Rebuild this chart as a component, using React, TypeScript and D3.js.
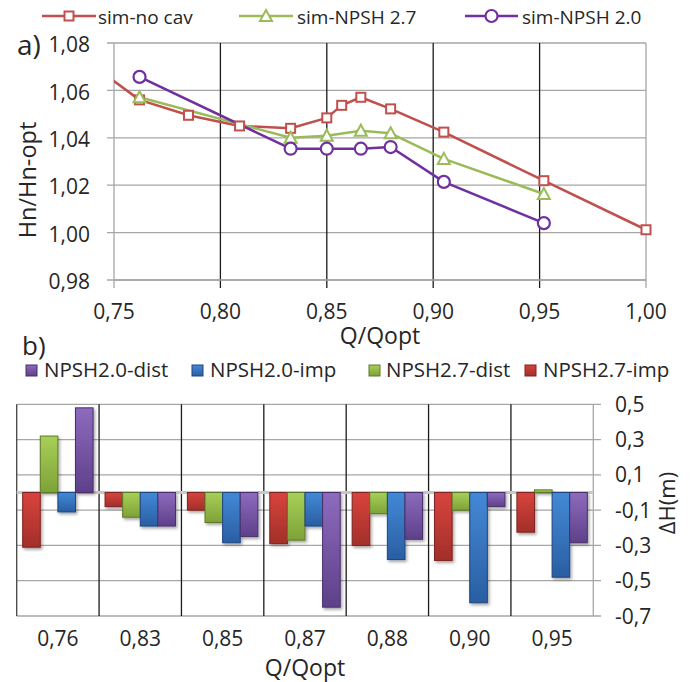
import React from "react";
import * as d3 from "d3";

// ---- Top chart data (a) ----
const noCavQ = [0.74, 0.762, 0.785, 0.809, 0.833, 0.85, 0.857, 0.866, 0.88, 0.905, 0.952, 1.0];
const noCavH = [1.0705, 1.056, 1.0495, 1.045, 1.044, 1.0484, 1.0537, 1.0571, 1.0522, 1.0424, 1.0219, 1.0012];
const npsh27Q = [0.762, 0.833, 0.85, 0.866, 0.88, 0.905, 0.952];
const npsh27H = [1.0571, 1.04, 1.0409, 1.043, 1.0419, 1.0311, 1.0163];
const npsh20Q = [0.762, 0.833, 0.85, 0.866, 0.88, 0.905, 0.952];
const npsh20H = [1.0657, 1.0354, 1.0354, 1.0354, 1.0361, 1.0214, 1.004];
const topXTicks = [0.75, 0.8, 0.85, 0.9, 0.95, 1.0];
const topYTicks = [0.98, 1.0, 1.02, 1.04, 1.06, 1.08];

// ---- Bottom chart data (b) ----
const categories = ["0,76", "0,83", "0,85", "0,87", "0,88", "0,90", "0,95"];
const npsh27imp = [-0.31, -0.08, -0.1, -0.29, -0.3, -0.385, -0.225];
const npsh27dist = [0.32, -0.14, -0.17, -0.27, -0.12, -0.1, 0.015];
const npsh20imp = [-0.11, -0.19, -0.285, -0.19, -0.38, -0.625, -0.48];
const npsh20dist = [0.48, -0.19, -0.25, -0.65, -0.265, -0.08, -0.285];
const botYTicks = [0.5, 0.3, 0.1, -0.1, -0.3, -0.5, -0.7];

const FONT = "'Open Sans', sans-serif";
const TXT = "#262626";
const fmt2 = (v: number) => v.toFixed(2).replace(".", ",");
const fmt1 = (v: number) => v.toFixed(1).replace(".", ",");

const barSeries = [
  { key: "r", name: "NPSH2.7-imp", values: npsh27imp, light: "#D8443D", dark: "#A22F2A", stroke: "#7E2420" },
  { key: "g", name: "NPSH2.7-dist", values: npsh27dist, light: "#A8CF58", dark: "#7EA238", stroke: "#5C7A26" },
  { key: "b", name: "NPSH2.0-imp", values: npsh20imp, light: "#4389D6", dark: "#2A5EA3", stroke: "#1C4580" },
  { key: "p", name: "NPSH2.0-dist", values: npsh20dist, light: "#8D6BBE", dark: "#5E4089", stroke: "#47306A" },
];

export default function App() {
  // top scales
  const xT = d3.scaleLinear().domain([0.75, 1.0]).range([114, 646]);
  const yT = d3.scaleLinear().domain([0.98, 1.08]).range([280, 43]);
  const line = d3
    .line<[number, number]>()
    .x((d) => xT(d[0]))
    .y((d) => yT(d[1]));
  const noCav: [number, number][] = noCavQ.map((q, i) => [q, noCavH[i]]);
  const n27: [number, number][] = npsh27Q.map((q, i) => [q, npsh27H[i]]);
  const n20: [number, number][] = npsh20Q.map((q, i) => [q, npsh20H[i]]);
  const inDomain = (d: [number, number]) => d[0] >= 0.75 && d[0] <= 1.0;

  const RED = "#C0504D";
  const GREEN = "#9BBB59";
  const PURPLE = "#7030A0";

  // bottom scales
  const x0 = d3.scaleBand<string>().domain(categories).range([16.7, 593.3]);
  const x1 = d3
    .scaleBand<string>()
    .domain(barSeries.map((s) => s.key))
    .range([0, x0.bandwidth()])
    .paddingInner(0)
    .paddingOuter(0.34);
  const yB = d3.scaleLinear().domain([-0.7, 0.5]).range([616, 404.3]);

  const square = (cx: number, cy: number, col: string, k: string) => (
    <rect key={k} x={cx - 4.5} y={cy - 4.5} width={9} height={9} fill="#fff" stroke={col} strokeWidth={2} />
  );
  const tri = (cx: number, cy: number, col: string, k: string) => (
    <path key={k} d={`M${cx},${cy - 6}L${cx + 6},${cy + 5}L${cx - 6},${cy + 5}Z`} fill="#fff" stroke={col} strokeWidth={2} />
  );
  const circ = (cx: number, cy: number, col: string, k: string) => (
    <circle key={k} cx={cx} cy={cy} r={6} fill="#fff" stroke={col} strokeWidth={2.2} />
  );

  const legendTop = [
    { name: "sim-no cav", col: RED, x0: 42, x1: 96, mk: square, tx: 98 },
    { name: "sim-NPSH 2.7", col: GREEN, x0: 239, x1: 293, mk: tri, tx: 297 },
    { name: "sim-NPSH 2.0", col: PURPLE, x0: 465, x1: 518, mk: circ, tx: 522 },
  ];
  const legendBot = [
    { s: barSeries[3], x: 26, tx: 44 },
    { s: barSeries[2], x: 192, tx: 210 },
    { s: barSeries[1], x: 369, tx: 386 },
    { s: barSeries[0], x: 525, tx: 543 },
  ];

  return (
    <svg width={693} height={682} style={{ position: "absolute", left: 0, top: 0, background: "#fff" }} fontFamily={FONT}>
      <defs>
        <clipPath id="plotTop">
          <rect x={114} y={43} width={532} height={237} />
        </clipPath>
        {barSeries.map((s) => (
          <linearGradient key={s.key} id={`grad-${s.key}`} x1="0" y1="0" x2="0" y2="1">
            <stop offset="0%" stopColor={s.light} />
            <stop offset="100%" stopColor={s.dark} />
          </linearGradient>
        ))}
        <filter id="shadow" x="-30%" y="-30%" width="160%" height="160%">
          <feDropShadow dx={1.5} dy={2} stdDeviation={1.5} floodColor="#000" floodOpacity={0.35} />
        </filter>
      </defs>
      <rect x={0} y={0} width={693} height={682} fill="#fff" />

      {/* ===== Top chart ===== */}
      {legendTop.map((l) => (
        <g key={l.name}>
          <line x1={l.x0} x2={l.x1} y1={16} y2={16} stroke={l.col} strokeWidth={2.5} />
          {l.mk((l.x0 + l.x1) / 2, 16, l.col, "m")}
          <text x={l.tx} y={24} fontSize={19} fill={TXT}>
            {l.name}
          </text>
        </g>
      ))}

      {/* horizontal gridlines */}
      {topYTicks.map((t) => (
        <g key={t}>
          <line x1={107} x2={646} y1={yT(t)} y2={yT(t)} stroke="#A6A6A6" strokeWidth={1.3} />
          <text x={90} y={yT(t)} dy="0.44em" textAnchor="end" fontSize={21} fill={TXT}>
            {fmt2(t)}
          </text>
        </g>
      ))}
      {/* vertical gridlines */}
      {topXTicks.map((t) => (
        <g key={t}>
          <line
            x1={xT(t)}
            x2={xT(t)}
            y1={43}
            y2={288}
            stroke={t === 0.75 || t === 1.0 ? "#A6A6A6" : "#1a1a1a"}
            strokeWidth={1.3}
          />
          <text x={xT(t)} y={319} textAnchor="middle" fontSize={21} fill={TXT}>
            {fmt2(t)}
          </text>
        </g>
      ))}
      <line x1={114} x2={646} y1={280} y2={280} stroke="#A6A6A6" strokeWidth={1.3} />

      <g clipPath="url(#plotTop)" fill="none" strokeWidth={2.5} strokeLinejoin="round">
        <path d={line(noCav) || ""} stroke={RED} />
        <path d={line(n27) || ""} stroke={GREEN} />
        <path d={line(n20) || ""} stroke={PURPLE} />
      </g>
      {noCav.filter(inDomain).map((d, i) => square(xT(d[0]), yT(d[1]), RED, "s" + i))}
      {n27.filter(inDomain).map((d, i) => tri(xT(d[0]), yT(d[1]), GREEN, "t" + i))}
      {n20.filter(inDomain).map((d, i) => circ(xT(d[0]), yT(d[1]), PURPLE, "c" + i))}

      <text x={17} y={55} fontSize={28} fill={TXT}>
        a)
      </text>
      <text transform="translate(36,180) rotate(-90)" textAnchor="middle" fontSize={23.5} fill={TXT}>
        Hn/Hn-opt
      </text>
      <text x={380} y={344} textAnchor="middle" fontSize={23} fill={TXT}>
        Q/Qopt
      </text>

      {/* ===== Bottom chart ===== */}
      <text x={22} y={355} fontSize={26} fill={TXT}>
        b)
      </text>
      {legendBot.map((l) => (
        <g key={l.s.key}>
          <rect x={l.x} y={365} width={11} height={11} fill={`url(#grad-${l.s.key})`} stroke={l.s.stroke} strokeWidth={1} />
          <text x={l.tx} y={377} fontSize={20.5} fill={TXT}>
            {l.s.name}
          </text>
        </g>
      ))}

      {botYTicks.map((t) => (
        <g key={t}>
          <line x1={16.7} x2={601} y1={yB(t)} y2={yB(t)} stroke="#A6A6A6" strokeWidth={1.3} />
          <text x={615} y={yB(t)} dy="0.36em" fontSize={21} fill={TXT}>
            {fmt1(t)}
          </text>
        </g>
      ))}
      {categories.map((c, i) => {
        const x = x0(c)!;
        return (
          <g key={c}>
            <line
              x1={x}
              x2={x}
              y1={404.3}
              y2={616}
              stroke={i === 0 ? "#444" : "#1a1a1a"}
              strokeWidth={1.3}
            />
            <text x={x + x0.bandwidth() / 2} y={646} textAnchor="middle" fontSize={21} fill={TXT}>
              {c}
            </text>
          </g>
        );
      })}
      <line x1={593.3} x2={593.3} y1={404.3} y2={616} stroke="#A6A6A6" strokeWidth={1.3} />
      {/* zero axis */}
      <line x1={16.7} x2={593.3} y1={yB(0)} y2={yB(0)} stroke="#C8C8C8" strokeWidth={3} />

      <g filter="url(#shadow)">
        {categories.map((c, i) =>
          barSeries.map((s) => {
            const v = s.values[i];
            const y0 = yB(0);
            const y1 = yB(v);
            return (
              <rect
                key={c + s.key}
                x={x0(c)! + x1(s.key)!}
                y={Math.min(y0, y1)}
                width={x1.bandwidth()}
                height={Math.abs(y1 - y0)}
                fill={`url(#grad-${s.key})`}
                stroke={s.stroke}
                strokeWidth={1}
              />
            );
          })
        )}
      </g>

      <text transform="translate(675,503) rotate(-90)" textAnchor="middle" fontSize={22} fill={TXT}>
        ΔH(m)
      </text>
      <text x={305} y={676} textAnchor="middle" fontSize={23} fill={TXT}>
        Q/Qopt
      </text>
    </svg>
  );
}
